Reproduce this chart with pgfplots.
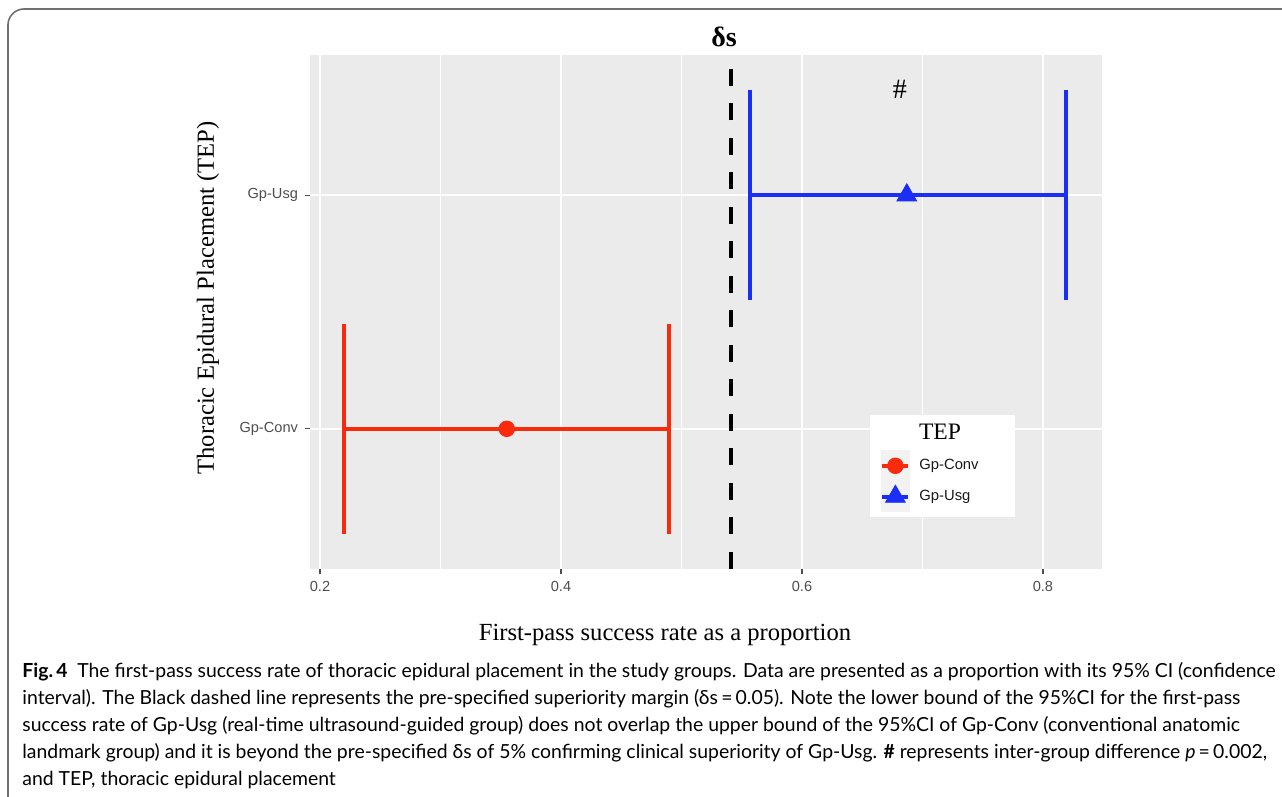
\documentclass[border=0pt]{standalone}
\usepackage{pgfplots}
\pgfplotsset{compat=1.18}
\usepackage{fontspec}
\setmainfont{Liberation Serif}
\newfontfamily\arial{Liberation Sans}
\newfontfamily\capfont{Lato}
\definecolor{panelbg}{HTML}{EBEBEB}
\definecolor{tickgrey}{HTML}{4D4D4D}
\definecolor{cred}{HTML}{FA2A0C}
\definecolor{cblue}{HTML}{1A2EF5}
\definecolor{keybg}{HTML}{F2F2F2}
\definecolor{framegrey}{HTML}{707070}
\begin{document}
\begin{tikzpicture}
\useasboundingbox (0,0) rectangle (641pt,-398.5pt);
\draw[framegrey, line width=0.8pt, rounded corners=8pt] (4pt,-4.5pt) rectangle (700pt,-460pt);
\begin{axis}[
  at={(155pt,-284.5pt)}, anchor=south west,
  scale only axis, width=396pt, height=257pt,
  xmin=0.1917, xmax=0.849, ymin=0.4, ymax=2.6,
  axis background/.style={fill=panelbg},
  axis line style={draw=none},
  xtick={0.2,0.4,0.6,0.8}, xticklabels={0.2,0.4,0.6,0.8},
  minor xtick={0.3,0.5,0.7},
  ytick={1,2}, yticklabels={Gp-Conv,Gp-Usg},
  xmajorgrids, xminorgrids, ymajorgrids,
  major grid style={white, line width=1pt},
  minor grid style={white, line width=0.5pt},
  tick align=outside, major tick length=2.5pt, minor tick length=0pt,
  tick style={tickgrey, line width=0.6pt},
  tick pos=left,
  ticklabel style={font=\arial\fontsize{7.3}{8}\selectfont, text=tickgrey},
  legend style={at={(axis description cs:0.7197,0.2315)}, anchor=north west,
    draw=none, fill=none, inner sep=0pt, row sep=0pt, column sep=4.5pt,
    nodes={inner sep=0pt, anchor=west},
    font=\arial\fontsize{7.4}{8}\selectfont, text=black!90},
  clip=false,
]
\fill[white] (axis description cs:0.7071,0.2996) rectangle (axis description cs:0.8902,0.1012);
\node[font=\fontsize{11.8}{14}\selectfont] at (axis description cs:0.7955,0.2665) {TEP};
% superiority margin
\addplot[black, line width=2pt, dash pattern=on 8.5pt off 8.75pt, forget plot] coordinates {(0.541,0.4) (0.541,2.6)};
% Gp-Conv CI
\addplot[cred, line width=2pt, forget plot] coordinates {(0.22,1) (0.49,1)};
\addplot[cred, line width=2pt, forget plot] coordinates {(0.22,0.55) (0.22,1.45)};
\addplot[cred, line width=2pt, forget plot] coordinates {(0.49,0.55) (0.49,1.45)};
% Gp-Usg CI
\addplot[cblue, line width=2pt, forget plot] coordinates {(0.557,2) (0.819,2)};
\addplot[cblue, line width=2pt, forget plot] coordinates {(0.557,1.55) (0.557,2.45)};
\addplot[cblue, line width=2pt, forget plot] coordinates {(0.819,1.55) (0.819,2.45)};
% points
\addplot[only marks, mark=*, mark size=3.9pt, cred, mark options={draw=cred, fill=cred},
  legend image code/.code={
    \fill[keybg] (0pt,-7.5pt) rectangle (14pt,7.5pt);
    \draw[cred, line width=2pt] (0.5pt,0pt) -- (13.5pt,0pt);
    \fill[cred] (7pt,0pt) circle (3.9pt);
  }] coordinates {(0.355,1)};
\addlegendentry{Gp-Conv}
\addplot[only marks, mark=triangle*, mark size=5.7pt, cblue, mark options={draw=cblue, fill=cblue},
  legend image code/.code={
    \fill[keybg] (0pt,-7.5pt) rectangle (14pt,7.5pt);
    \draw[cblue, line width=2pt] (0.5pt,0pt) -- (13.5pt,0pt);
    \draw[cblue, only marks, mark=triangle*, mark size=5.7pt, mark options={draw=cblue, fill=cblue}] plot coordinates {(7pt,0pt)};
  }] coordinates {(0.687,2)};
\addlegendentry{Gp-Usg}
\node[font=\bfseries\fontsize{14}{16}\selectfont] at (axis description cs:0.5227,1.035) {δs};
\node[font=\fontsize{14}{16}\selectfont] at (axis description cs:0.7449,0.9339) {\#};
\end{axis}
\node[rotate=90, font=\fontsize{12.3}{14}\selectfont] at (104pt,-149pt) {Thoracic Epidural Placement (TEP)};
\node[font=\fontsize{12.3}{14}\selectfont] at (332.5pt,-317.5pt) {First-pass success rate as a proportion};
\node[anchor=north west, align=left, inner sep=0pt, font=\capfont\fontsize{9.7}{13.5}\selectfont] at (11pt,-331pt) {%
\textbf{Fig.\,4}\enspace The first-pass success rate of thoracic epidural placement in the study groups. Data are presented as a proportion with its 95\% CI (confidence\\
interval). The Black dashed line represents the pre-specified superiority margin (δs\,=\,0.05). Note the lower bound of the 95\%CI for the first-pass\\
success rate of Gp-Usg (real-time ultrasound-guided group) does not overlap the upper bound of the 95\%CI of Gp-Conv (conventional anatomic\\
landmark group) and it is beyond the pre-specified δs of 5\% confirming clinical superiority of Gp-Usg. \textbf{\#} represents inter-group difference \textit{p}\,=\,0.002,\\
and TEP, thoracic epidural placement};
\end{tikzpicture}
\end{document}
